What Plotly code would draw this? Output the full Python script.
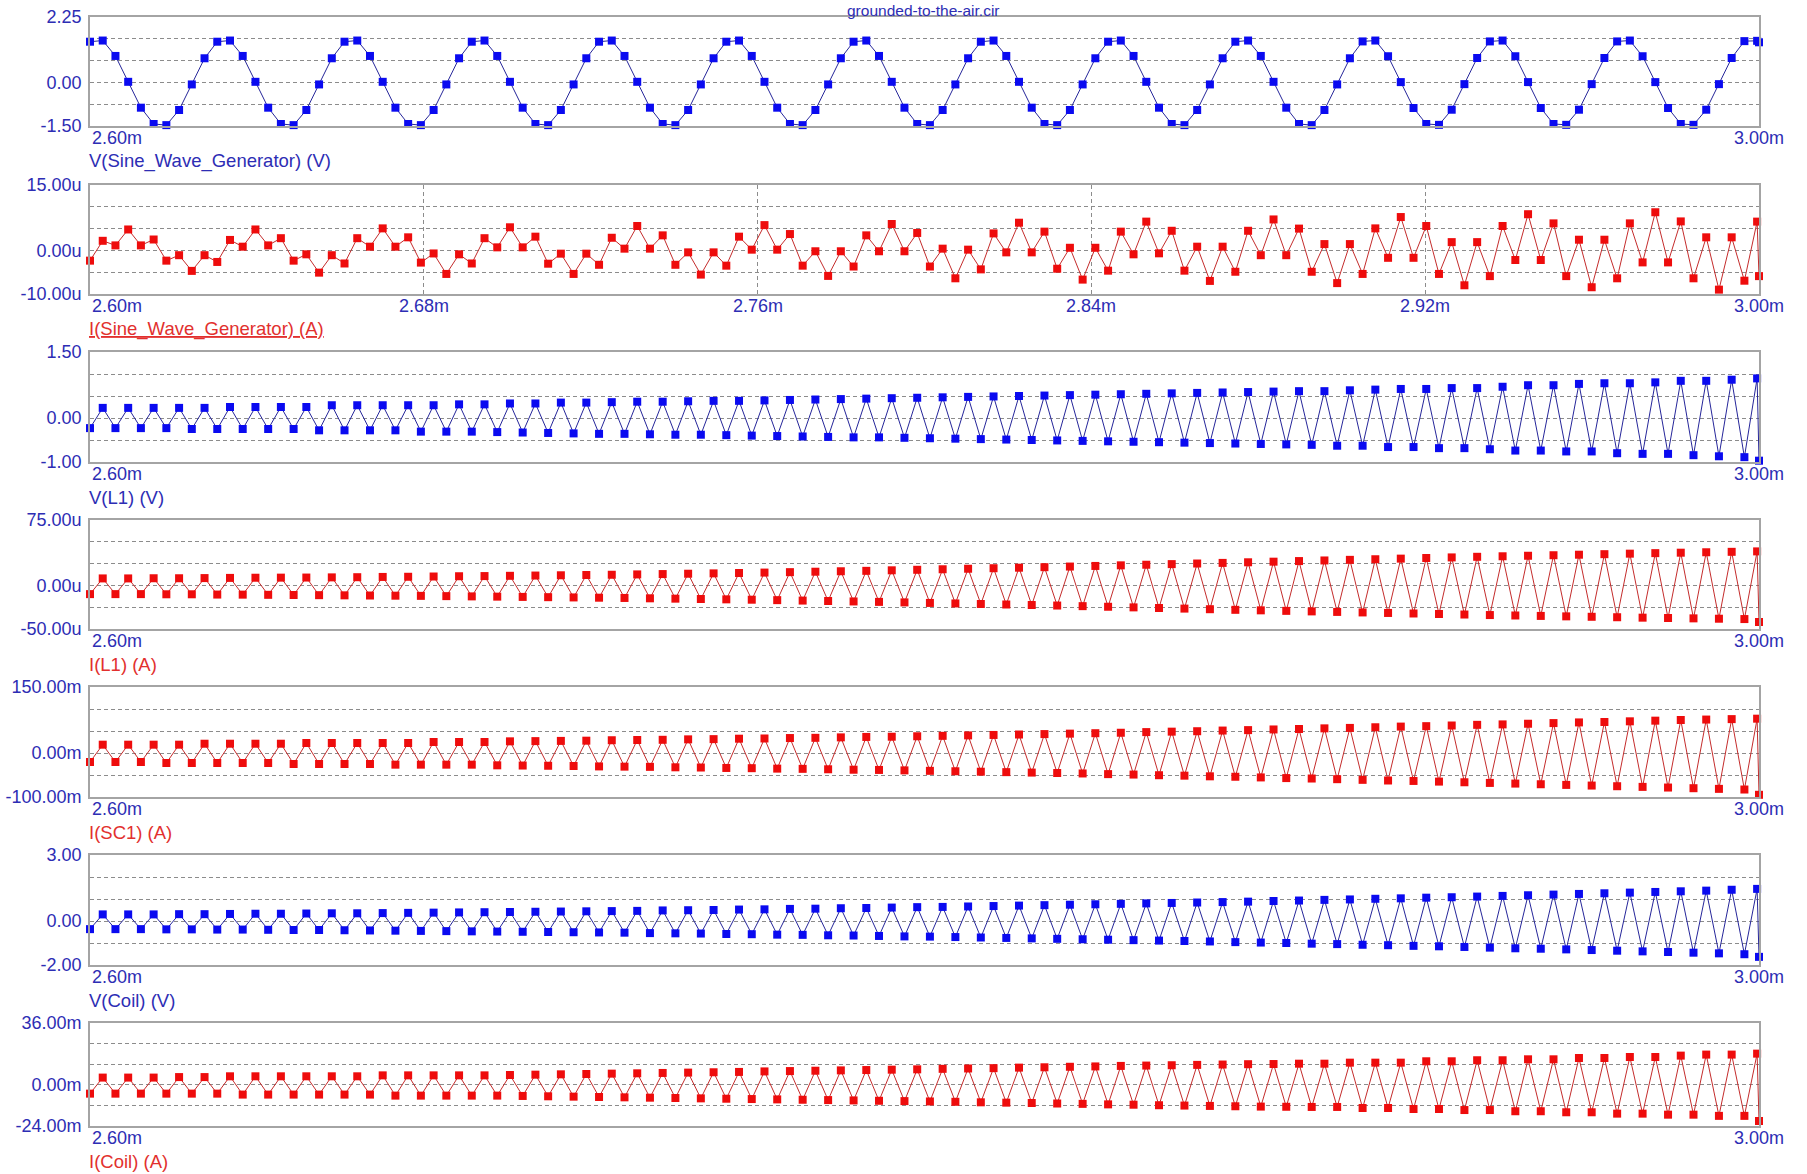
import plotly.graph_objects as go

# ---------------------------------------------------------------
# Transient analysis of grounded-to-the-air.cir, 2.60 ms .. 3.00 ms
# Time in ms; currents in uA / mA as noted per trace.
# ---------------------------------------------------------------
T_START = 2.60
T_STEP = 0.00305
N_SAMPLES = 132
T_END = 3.00
time_ms = [round(T_START + i * T_STEP, 5) for i in range(N_SAMPLES)] + [T_END]

# V(Sine_Wave_Generator) [V]
v_sine = [
    1.40, 1.44, 0.91, 0.02, -0.87, -1.43, -1.47, -0.95, -0.07, 0.83,
    1.40, 1.44, 0.91, 0.02, -0.87, -1.43, -1.47, -0.95, -0.07, 0.83,
    1.40, 1.44, 0.91, 0.02, -0.87, -1.43, -1.47, -0.95, -0.07, 0.83,
    1.40, 1.44, 0.91, 0.02, -0.87, -1.43, -1.47, -0.95, -0.07, 0.83,
    1.40, 1.44, 0.91, 0.02, -0.87, -1.43, -1.47, -0.95, -0.07, 0.83,
    1.40, 1.44, 0.91, 0.02, -0.87, -1.43, -1.47, -0.95, -0.07, 0.83,
    1.40, 1.44, 0.91, 0.02, -0.87, -1.43, -1.47, -0.95, -0.07, 0.83,
    1.40, 1.44, 0.91, 0.02, -0.87, -1.43, -1.47, -0.95, -0.07, 0.83,
    1.40, 1.44, 0.91, 0.02, -0.87, -1.43, -1.47, -0.95, -0.07, 0.83,
    1.40, 1.44, 0.91, 0.02, -0.87, -1.43, -1.47, -0.95, -0.07, 0.83,
    1.41, 1.44, 0.90, 0.01, -0.88, -1.43, -1.46, -0.94, -0.06, 0.84,
    1.41, 1.44, 0.90, 0.01, -0.88, -1.43, -1.46, -0.94, -0.06, 0.84,
    1.41, 1.44, 0.90, 0.01, -0.88, -1.43, -1.46, -0.94, -0.06, 0.84,
    1.42, 1.43,
    1.38,
]

# I(Sine_Wave_Generator) [uA]
i_sine = [
    -2.35, 2.2, 1.15, 4.8, 1.15, 2.5, -2.35, -1.1, -4.7, -1.1,
    -2.65, 2.4, 0.85, 4.8, 1.15, 2.8, -2.35, -0.9, -5.1, -1.1,
    -3.0, 2.8, 0.85, 5.05, 0.85, 3.0, -2.8, -0.7, -5.4, -0.9,
    -3.0, 2.8, 0.7, 5.3, 0.7, 3.15, -3.05, -0.75, -5.4, -0.75,
    -3.3, 2.9, 0.4, 5.6, 0.4, 3.45, -3.3, -0.45, -5.55, -0.45,
    -3.5, 3.15, 0.17, 5.8, 0.17, 3.75, -3.5, -0.2, -5.85, -0.2,
    -3.7, 3.45, -0.2, 6.05, -0.2, 4.0, -3.7, 0.4, -6.4, 0.17,
    -4.35, 3.9, -0.45, 6.35, -0.45, 4.3, -4.2, 0.6, -6.7, 0.6,
    -4.65, 4.3, -0.9, 6.6, -0.67, 4.5, -4.65, 0.85, -7.0, 0.85,
    -4.9, 4.5, -1.1, 7.1, -1.1, 5.0, -4.9, 1.45, -7.5, 1.45,
    -5.4, 5.05, -1.7, 7.65, -1.7, 5.6, -5.4, 1.9, -8.0, 1.9,
    -5.9, 5.6, -2.2, 8.3, -2.2, 6.2, -5.9, 2.45, -8.45, 2.45,
    -6.4, 6.2, -2.75, 8.75, -2.75, 6.65, -6.4, 3.0, -9.0, 3.0,
    -6.95, 6.6,
    -5.9,
]

# V(L1) [V]
v_l1 = [
    -0.23, 0.23, -0.23, 0.23, -0.23, 0.23, -0.23, 0.23, -0.25, 0.23,
    -0.25, 0.25, -0.25, 0.25, -0.25, 0.25, -0.25, 0.25, -0.28, 0.29,
    -0.28, 0.29, -0.28, 0.29, -0.28, 0.29, -0.31, 0.29, -0.31, 0.31,
    -0.31, 0.31, -0.32, 0.33, -0.33, 0.33, -0.34, 0.35, -0.35, 0.35,
    -0.36, 0.36, -0.36, 0.37, -0.37, 0.37, -0.38, 0.38, -0.38, 0.39,
    -0.39, 0.39, -0.40, 0.40, -0.41, 0.41, -0.42, 0.42, -0.43, 0.43,
    -0.44, 0.44, -0.44, 0.45, -0.45, 0.46, -0.46, 0.47, -0.47, 0.48,
    -0.48, 0.49, -0.49, 0.50, -0.50, 0.51, -0.51, 0.52, -0.52, 0.53,
    -0.53, 0.54, -0.54, 0.55, -0.55, 0.56, -0.56, 0.57, -0.57, 0.58,
    -0.58, 0.59, -0.59, 0.60, -0.60, 0.61, -0.61, 0.61, -0.63, 0.63,
    -0.63, 0.645, -0.66, 0.66, -0.66, 0.66, -0.685, 0.68, -0.685, 0.68,
    -0.71, 0.71, -0.74, 0.745, -0.74, 0.745, -0.76, 0.775, -0.76, 0.79,
    -0.80, 0.79, -0.815, 0.81, -0.815, 0.845, -0.845, 0.845, -0.87, 0.87,
    -0.89, 0.90,
    -0.97,
]

# I(L1) [uA]
i_l1 = [
    -10.0, 8.0, -10.0, 8.0, -10.0, 8.2, -10.2, 8.2, -10.2, 8.4,
    -10.5, 8.6, -10.6, 8.8, -10.8, 8.9, -11.0, 9.0, -11.2, 9.2,
    -11.4, 9.4, -11.6, 9.7, -11.8, 9.9, -12.0, 10.2, -12.3, 10.5,
    -12.6, 10.7, -12.9, 11.0, -13.2, 11.3, -13.5, 11.6, -13.8, 11.9,
    -14.1, 12.2, -14.4, 12.6, -14.8, 13.0, -15.2, 13.4, -15.6, 13.8,
    -16.0, 14.2, -16.4, 14.7, -16.9, 15.2, -17.4, 15.7, -17.9, 16.2,
    -18.4, 16.7, -18.9, 17.3, -19.5, 17.9, -20.1, 18.5, -20.7, 19.1,
    -21.3, 19.7, -21.9, 20.3, -22.5, 20.9, -23.1, 21.6, -23.8, 22.3,
    -24.5, 23.0, -25.2, 23.7, -25.9, 24.4, -26.6, 25.1, -27.3, 25.8,
    -28.0, 26.5, -28.6, 27.2, -29.2, 27.9, -29.8, 28.6, -30.4, 29.3,
    -31.0, 30.0, -31.6, 30.7, -32.2, 31.4, -32.8, 32.1, -33.4, 32.8,
    -34.0, 33.4, -34.5, 34.0, -35.0, 34.6, -35.5, 35.2, -36.0, 35.8,
    -36.5, 36.4, -37.0, 37.0, -37.4, 37.5, -37.8, 38.0, -38.2, 38.5,
    -38.6, 39.0,
    -42.0,
]

# I(SC1) [mA]
i_sc1 = [
    -20.5, 18.9, -20.5, 18.9, -20.5, 18.9, -22.7, 18.9, -22.7, 21.1,
    -22.7, 21.1, -22.7, 21.1, -22.7, 21.1, -25.0, 22.7, -25.0, 22.7,
    -25.0, 22.7, -25.0, 22.7, -26.5, 22.7, -26.5, 25.0, -26.5, 25.0,
    -26.5, 25.0, -28.0, 26.5, -28.5, 27.0, -29.0, 27.5, -29.5, 28.0,
    -30.5, 29.0, -31.0, 29.5, -31.5, 30.0, -32.5, 31.0, -33.0, 31.5,
    -34.0, 32.5, -34.5, 33.0, -35.5, 34.0, -36.0, 34.5, -37.0, 35.5,
    -38.0, 36.5, -38.5, 37.0, -39.5, 38.0, -40.5, 39.0, -41.5, 40.0,
    -42.5, 41.0, -43.5, 42.0, -44.5, 43.0, -45.5, 44.0, -46.5, 45.0,
    -48.0, 46.0, -49.0, 47.5, -50.5, 48.5, -51.5, 49.5, -53.0, 51.0,
    -54.0, 52.0, -55.5, 53.5, -57.0, 54.5, -58.0, 56.0, -59.5, 57.0,
    -61.0, 58.5, -62.5, 60.0, -63.5, 61.0, -65.0, 62.5, -66.5, 64.0,
    -68.0, 65.0, -69.5, 66.5, -71.0, 68.0, -72.5, 69.5, -74.0, 70.5,
    -75.5, 72.0, -77.0, 73.5, -78.5, 75.0, -80.0, 76.0, -81.5, 77.0,
    -83.0, 78.0,
    -95.0,
]

# V(Coil) [V]
v_coil = [
    -0.37, 0.30, -0.37, 0.30, -0.37, 0.30, -0.38, 0.31, -0.38, 0.31,
    -0.39, 0.32, -0.39, 0.33, -0.40, 0.33, -0.41, 0.34, -0.41, 0.35,
    -0.42, 0.35, -0.43, 0.36, -0.44, 0.37, -0.45, 0.38, -0.46, 0.39,
    -0.47, 0.40, -0.48, 0.41, -0.49, 0.42, -0.50, 0.43, -0.51, 0.44,
    -0.52, 0.45, -0.53, 0.46, -0.55, 0.48, -0.56, 0.49, -0.57, 0.50,
    -0.59, 0.52, -0.60, 0.53, -0.62, 0.55, -0.63, 0.56, -0.65, 0.58,
    -0.66, 0.59, -0.68, 0.61, -0.70, 0.63, -0.71, 0.64, -0.73, 0.66,
    -0.75, 0.68, -0.77, 0.70, -0.79, 0.72, -0.81, 0.74, -0.83, 0.76,
    -0.85, 0.78, -0.87, 0.80, -0.89, 0.82, -0.91, 0.84, -0.93, 0.86,
    -0.96, 0.88, -0.98, 0.91, -1.00, 0.93, -1.03, 0.96, -1.05, 0.98,
    -1.08, 1.01, -1.10, 1.03, -1.13, 1.06, -1.15, 1.08, -1.18, 1.11,
    -1.21, 1.14, -1.24, 1.17, -1.26, 1.20, -1.29, 1.23, -1.32, 1.26,
    -1.35, 1.29, -1.38, 1.32, -1.41, 1.35, -1.44, 1.38, -1.47, 1.42,
    -1.51, 1.46,
    -1.63,
]

# I(Coil) [mA]
i_coil = [
    -5.15, 4.2, -5.15, 4.2, -5.15, 4.2, -5.15, 4.5, -5.15, 4.5,
    -5.15, 4.95, -5.7, 4.95, -5.7, 4.95, -5.7, 4.95, -5.7, 4.95,
    -5.7, 4.95, -5.7, 5.5, -6.3, 5.5, -6.3, 5.5, -6.3, 5.5,
    -6.3, 5.5, -6.3, 5.7, -6.5, 5.9, -6.7, 6.1, -6.9, 6.3,
    -7.1, 6.5, -7.3, 6.7, -7.5, 6.9, -7.7, 7.1, -7.9, 7.3,
    -8.1, 7.5, -8.3, 7.8, -8.5, 8.0, -8.7, 8.2, -8.9, 8.4,
    -9.1, 8.6, -9.3, 8.8, -9.5, 9.0, -9.7, 9.3, -9.9, 9.5,
    -10.2, 9.7, -10.4, 10.0, -10.6, 10.2, -10.9, 10.5, -11.1, 10.7,
    -11.4, 11.0, -11.6, 11.2, -11.9, 11.4, -12.1, 11.6, -12.3, 11.8,
    -12.5, 12.0, -12.7, 12.1, -12.8, 12.3, -12.9, 12.3, -12.9, 12.9,
    -13.5, 12.9, -13.5, 12.9, -14.1, 13.7, -14.1, 13.7, -14.7, 14.3,
    -14.7, 14.3, -15.4, 14.85, -15.4, 14.85, -16.0, 15.6, -16.0, 15.6,
    -16.8, 16.2, -16.8, 16.2, -17.4, 17.0, -17.4, 17.6, -18.1, 17.6,
    -18.1, 18.15,
    -21.1,
]

# Axis tick labels shown at the left of each strip
ticks_v_sine = ["-1.50", "0.00", "2.25"]
ticks_i_sine = ["-10.00u", "0.00u", "15.00u"]
ticks_v_l1 = ["-1.00", "0.00", "1.50"]
ticks_i_l1 = ["-50.00u", "0.00u", "75.00u"]
ticks_i_sc1 = ["-100.00m", "0.00m", "150.00m"]
ticks_v_coil = ["-2.00", "0.00", "3.00"]
ticks_i_coil = ["-24.00m", "0.00m", "36.00m"]

time_ticks = [2.60, 2.68, 2.76, 2.84, 2.92, 3.00]
time_labels = ["2.60m", "2.68m", "2.76m", "2.84m", "2.92m", "3.00m"]

BLUE_MK = "#0a0af0"
BLUE_LN = "#26269a"
RED_MK = "#ee0c0c"
RED_LN = "#c42c2c"
TXT_BLUE = "#2d2db4"
TXT_RED = "#e2302e"
GRID = "#8c8c8c"
FRAME = "#a4a4a4"
FONT = "Liberation Sans, Arial, sans-serif"

W, H = 1807, 1174
PX_L, PX_R = 90, 1759

# name, values, marker colour, line colour, label colour, y-range, tick text,
# strip top / bottom (px), time grid shown, underline
strips = [
    ("V(Sine_Wave_Generator) (V)", v_sine, BLUE_MK, BLUE_LN, TXT_BLUE, (-1.5, 2.25), ticks_v_sine, 17, 126, False, False),
    ("I(Sine_Wave_Generator) (A)", i_sine, RED_MK, RED_LN, TXT_RED, (-10, 15), ticks_i_sine, 185, 294, True, True),
    ("V(L1) (V)", v_l1, BLUE_MK, BLUE_LN, TXT_BLUE, (-1.0, 1.5), ticks_v_l1, 352, 462, False, False),
    ("I(L1) (A)", i_l1, RED_MK, RED_LN, TXT_RED, (-50, 75), ticks_i_l1, 520, 629, False, False),
    ("I(SC1) (A)", i_sc1, RED_MK, RED_LN, TXT_RED, (-100, 150), ticks_i_sc1, 687, 797, False, False),
    ("V(Coil) (V)", v_coil, BLUE_MK, BLUE_LN, TXT_BLUE, (-2.0, 3.0), ticks_v_coil, 855, 965, False, False),
    ("I(Coil) (A)", i_coil, RED_MK, RED_LN, TXT_RED, (-24, 36), ticks_i_coil, 1023, 1126, False, False),
]


def py(px):
    return 1 - px / H


fig = go.Figure()
layout = dict(
    width=W, height=H,
    margin=dict(l=0, r=0, t=0, b=0, pad=0, autoexpand=False),
    paper_bgcolor="white", plot_bgcolor="white",
    showlegend=False,
    font=dict(family=FONT, size=18, color=TXT_BLUE),
)
annotations = []

for n, (name, vals, mk, ln, tc, (lo, hi), ttxt, top, bot, tgrid, underline) in enumerate(strips, start=1):
    xa, ya = f"x{n}", f"y{n}"
    fig.add_trace(go.Scatter(
        x=time_ms, y=vals, xaxis=xa, yaxis=ya, mode="lines+markers",
        line=dict(color=ln, width=1),
        marker=dict(symbol="square", size=8, color=mk, line=dict(width=0)),
        cliponaxis=False, hoverinfo="skip",
    ))

    step = (hi - lo) / 5
    grid_vals = [lo + i * step for i in range(6)]
    tick_text = [ttxt[0], "", "", "", "", ttxt[2]]
    zero_idx = min(range(6), key=lambda i: abs(grid_vals[i]))
    tick_text[zero_idx] = ttxt[1]

    layout[f"xaxis{n}"] = dict(
        domain=[PX_L / W, PX_R / W], anchor=ya, range=[2.60, 3.00],
        showticklabels=False, ticks="", zeroline=False, automargin=False,
        showgrid=tgrid, tickvals=time_ticks[1:-1] if tgrid else [],
        gridcolor=GRID, griddash="4px,3px", gridwidth=1,
        showline=True, mirror=True, linecolor=FRAME, linewidth=1.6,
    )
    layout[f"yaxis{n}"] = dict(
        domain=[py(bot), py(top)], anchor=xa, range=[lo, hi],
        tickvals=grid_vals, ticktext=tick_text, ticks="", automargin=False,
        ticklabelstandoff=3,
        tickfont=dict(family=FONT, size=18, color=TXT_BLUE),
        showgrid=True, gridcolor=GRID, griddash="4px,3px", gridwidth=1,
        zeroline=False,
        showline=True, mirror=True, linecolor=FRAME, linewidth=1.6,
    )

    # time labels under the strip
    shown = list(zip(time_ticks, time_labels)) if tgrid else [(time_ticks[0], time_labels[0]), (time_ticks[-1], time_labels[-1])]
    for tv, tl in shown:
        annotations.append(dict(
            x=tv, xref=xa, y=py(bot + 12), yref="paper",
            text=tl, showarrow=False,
            xanchor="left" if tv == time_ticks[0] else "center", yanchor="middle",
            font=dict(family=FONT, size=18, color=TXT_BLUE),
        ))

    # trace name under the time labels
    annotations.append(dict(
        x=PX_L / W, xref="paper", y=py(bot + 35), yref="paper",
        text=f"<u>{name}</u>" if underline else name, showarrow=False,
        xanchor="left", yanchor="middle", xshift=-3,
        font=dict(family=FONT, size=18.5, color=tc),
    ))

# circuit file name above the first strip
annotations.append(dict(
    x=923 / W, xref="paper", y=1.0, yref="paper",
    text="grounded-to-the-air.cir", showarrow=False,
    xanchor="center", yanchor="top", borderpad=0, yshift=-1,
    font=dict(family=FONT, size=15.5, color=TXT_BLUE),
))

layout["annotations"] = annotations
fig.update_layout(**layout)
fig.write_html("out.html")
